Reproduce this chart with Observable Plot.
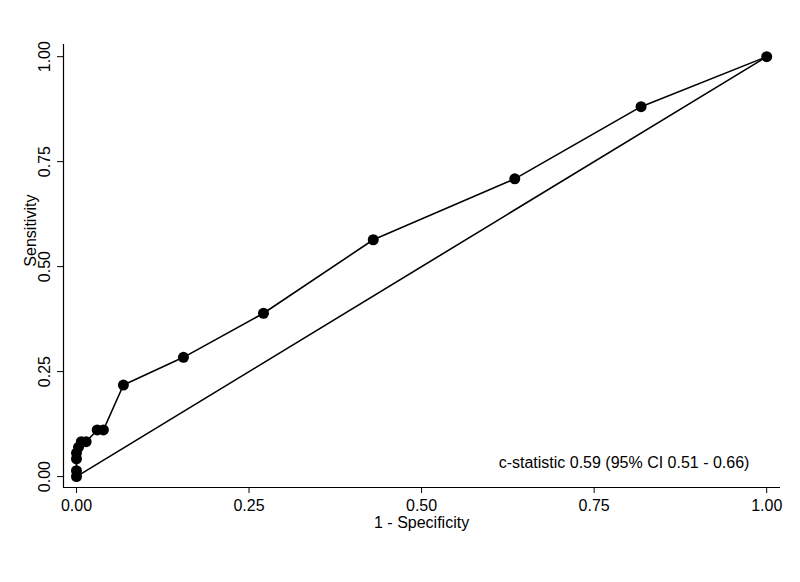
<!DOCTYPE html>
<html>
<head>
<meta charset="utf-8">
<script src="https://cdn.jsdelivr.net/npm/d3@7"></script>
<script src="https://cdn.jsdelivr.net/npm/@observablehq/plot@0.6"></script>
<style>
  html, body { margin: 0; padding: 0; background: #fff; }
  #chart { width: 800px; height: 582px; }
</style>
</head>
<body>
<div id="chart"></div>
<script>
const oneMinusSpec = [0, 0, 0, 0, 0.003, 0.007, 0.014, 0.030, 0.039, 0.068, 0.155, 0.271, 0.430, 0.635, 0.818, 1];
const sensitivity  = [0, 0.014, 0.042, 0.056, 0.070, 0.083, 0.083, 0.111, 0.111, 0.218, 0.284, 0.389, 0.564, 0.709, 0.881, 1];
const ticks = [0, 0.25, 0.5, 0.75, 1];
const reference = [0, 1];
const annotation = "c-statistic 0.59 (95% CI 0.51 - 0.66)";
const xTitle = "1 - Specificity";
const yTitle = "Sensitivity";

const roc = oneMinusSpec.map((x, i) => ({x, y: sensitivity[i]}));
const diag = reference.map(v => ({x: v, y: v}));
const fmt = d3.format(".2f");
const xDomain = [-0.0188, 1.020];
const yDomain = [-0.026, 1.029];

const chart = Plot.plot({
  width: 800,
  height: 582,
  marginLeft: 63,
  marginRight: 20,
  marginTop: 44,
  marginBottom: 95,
  style: {fontFamily: "'Liberation Sans', Arial, Helvetica, sans-serif", fontSize: "16px", color: "#000", background: "#fff"},
  x: {domain: xDomain},
  y: {domain: yDomain},
  marks: [
    Plot.ruleX([xDomain[0]], {stroke: "#000", strokeWidth: 1.2}),
    Plot.ruleY([yDomain[0]], {stroke: "#000", strokeWidth: 1.2}),
    Plot.axisX({ticks, tickFormat: fmt, tickSize: 6, tickPadding: 6, label: null, fontSize: 16}),
    Plot.axisY({ticks, tickFormat: fmt, tickSize: 6, tickPadding: 8, tickRotate: -90, label: null, fontSize: 16}),
    Plot.text([xTitle], {x: [0.5], frameAnchor: "bottom", dy: 40, fontSize: 16}),
    Plot.text([yTitle], {y: [0.5], frameAnchor: "left", dx: -33, rotate: -90, fontSize: 16}),
    Plot.line(diag, {x: "x", y: "y", stroke: "#000", strokeWidth: 1.6}),
    Plot.line(roc, {x: "x", y: "y", stroke: "#000", strokeWidth: 1.6}),
    Plot.dot(roc, {x: "x", y: "y", r: 5.5, fill: "#000", stroke: "none"}),
    Plot.text([annotation], {x: [0.975], y: [0.033], textAnchor: "end", fontSize: 16})
  ]
});
document.getElementById("chart").appendChild(chart);
</script>
</body>
</html>
